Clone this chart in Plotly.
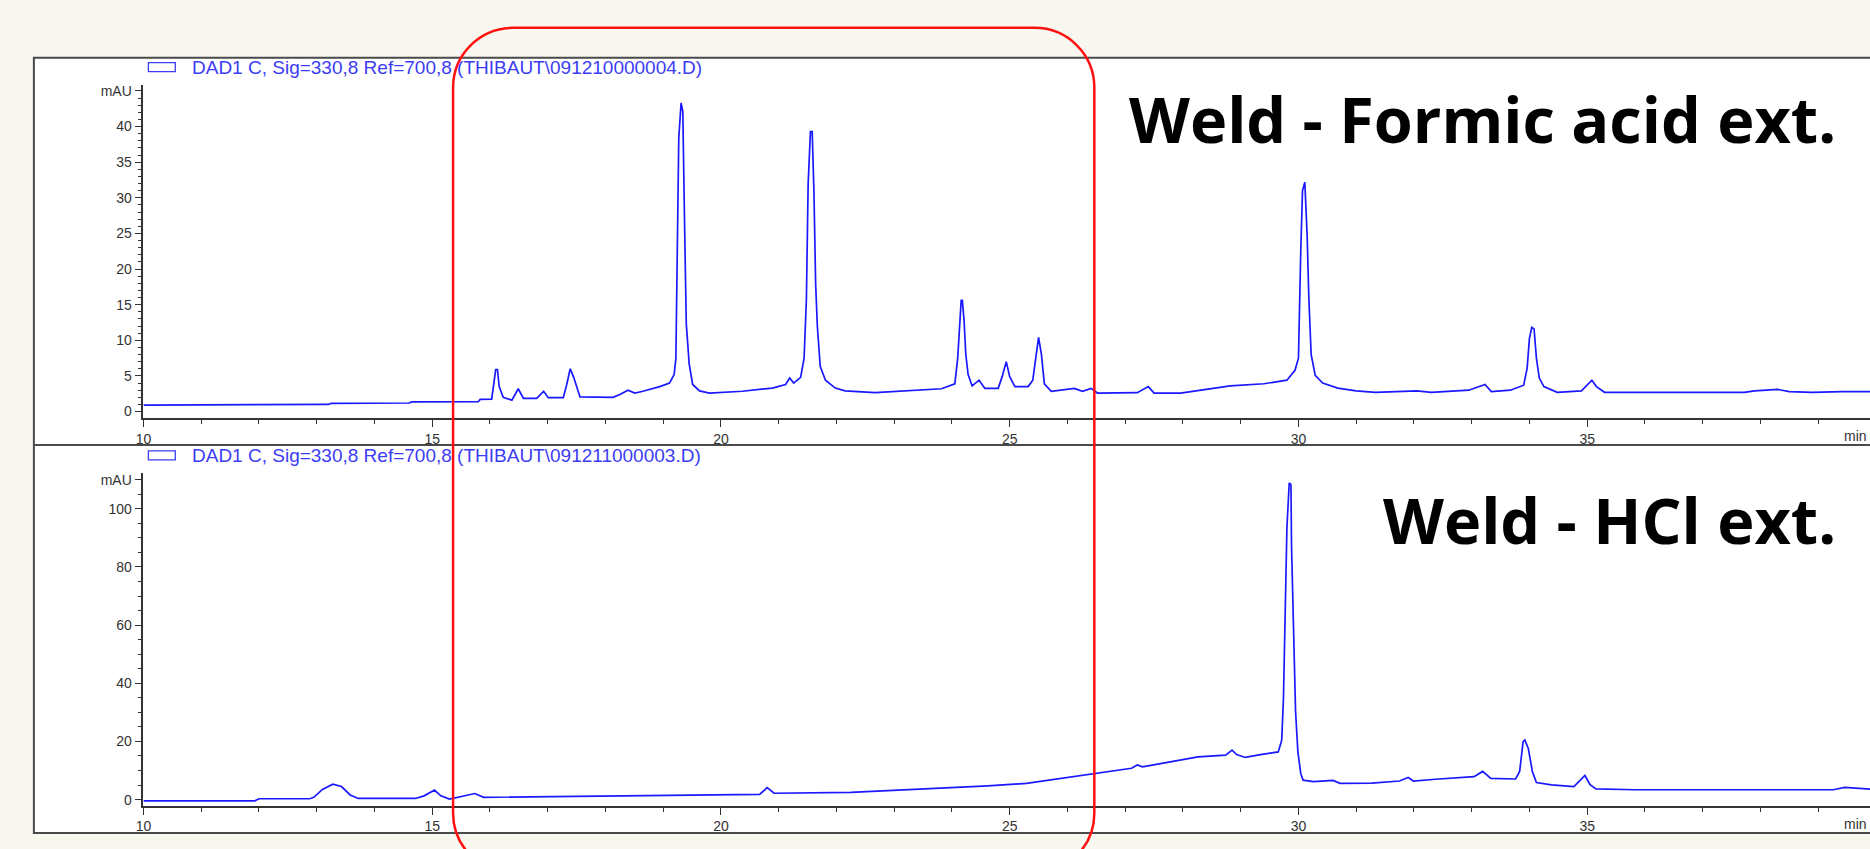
import plotly.graph_objects as go

# ---------------- data ----------------
top_time = [10.0, 11.05, 11.1, 13.2, 13.25, 14.6, 14.65, 15.80, 15.83, 16.03, 16.06, 16.10, 16.13, 16.16,
            16.23, 16.38, 16.45, 16.49, 16.53, 16.58, 16.81, 16.88, 16.93, 17.01, 17.27, 17.33, 17.39,
            17.45, 17.56, 18.13, 18.25, 18.39, 18.51, 18.65, 18.94, 19.11, 19.19, 19.22, 19.24, 19.27,
            19.31, 19.34, 19.37, 19.40, 19.45, 19.51, 19.63, 19.80, 20.37, 20.89, 21.12, 21.19, 21.26,
            21.38, 21.44, 21.48, 21.51, 21.55, 21.58, 21.61, 21.64, 21.67, 21.72, 21.81, 21.98, 22.15,
            22.67, 23.82, 24.05, 24.10, 24.16, 24.18, 24.21, 24.24, 24.28, 24.35, 24.47, 24.57, 24.80,
            24.87, 24.94, 25.00, 25.09, 25.32, 25.40, 25.46, 25.50, 25.55, 25.60, 25.72, 26.12, 26.26,
            26.41, 26.52, 27.21, 27.40, 27.50, 27.96, 28.53, 28.82, 29.40, 29.80, 29.94, 30.00, 30.04,
            30.07, 30.11, 30.15, 30.18, 30.22, 30.29, 30.42, 30.68, 31.00, 31.33, 32.05, 32.30, 32.95,
            33.23, 33.34, 33.67, 33.90, 33.96, 34.00, 34.04, 34.08, 34.12, 34.17, 34.25, 34.38, 34.48,
            34.90, 35.00, 35.08, 35.16, 35.30, 36.20, 37.72, 37.90, 38.21, 38.30, 38.50, 38.90, 39.40,
            39.90]
top_mau = [0.90, 0.92, 1.0, 1.0, 1.15, 1.2, 1.35, 1.38, 1.70, 1.75, 3.5, 5.9, 5.9, 3.5,
           2.0, 1.6, 2.6, 3.2, 2.6, 1.85, 1.85, 2.4, 2.85, 1.95, 1.95, 3.8, 6.0,
           4.8, 2.05, 2.0, 2.4, 3.0, 2.6, 2.85, 3.5, 4.0, 5.2, 7.5, 18.1, 38.4,
           43.3, 42.1, 26.5, 12.3, 6.7, 3.8, 2.9, 2.6, 2.85, 3.3, 3.8, 4.7, 4.0,
           4.8, 7.5, 15.8, 31.9, 39.3, 39.3, 31.0, 17.9, 11.9, 6.3, 4.4, 3.3, 2.9,
           2.65, 3.2, 3.9, 7.5, 15.6, 15.6, 12.8, 8.0, 5.2, 3.6, 4.4, 3.25, 3.25,
           4.9, 7.0, 4.9, 3.5, 3.5, 4.4, 8.0, 10.4, 8.0, 3.9, 2.85, 3.25, 2.85,
           3.25, 2.6, 2.65, 3.5, 2.6, 2.6, 3.2, 3.6, 3.9, 4.4, 5.8, 7.5, 22.6,
           31.0, 32.2, 24.8, 15.9, 8.0, 5.1, 4.0, 3.3, 2.9, 2.7, 2.9, 2.7, 3.0,
           3.8, 2.8, 3.0, 3.7, 6.1, 10.3, 11.8, 11.6, 7.5, 4.7, 3.5, 3.0, 2.7,
           2.9, 3.7, 4.4, 3.5, 2.7, 2.7, 2.7, 2.9, 3.0, 3.1, 2.8, 2.7, 2.8,
           2.8]

bottom_time = [10.0, 11.93, 12.0, 12.88, 12.95, 13.1, 13.28, 13.43, 13.58, 13.72, 14.71, 14.86, 15.04,
               15.15, 15.30, 15.45, 15.74, 15.89, 16.83, 18.0, 19.48, 20.67, 20.80, 20.92, 22.25, 23.14,
               23.93, 24.62, 25.29, 25.77, 26.35, 26.82, 27.11, 27.21, 27.30, 27.78, 28.26, 28.74, 28.85,
               28.93, 29.08, 29.34, 29.65, 29.71, 29.74, 29.77, 29.80, 29.84, 29.87, 29.88, 29.91, 29.95,
               29.99, 30.04, 30.08, 30.26, 30.60, 30.72, 31.27, 31.75, 31.90, 31.99, 32.37, 32.76, 33.04,
               33.19, 33.33, 33.76, 33.83, 33.89, 33.92, 33.98, 34.05, 34.12, 34.38, 34.77, 34.86, 34.96,
               35.05, 35.15, 35.82, 37.35, 39.26, 39.46, 39.90]
bottom_mau = [-0.4, -0.4, 0.3, 0.3, 0.8, 3.5, 5.3, 4.5, 1.6, 0.4, 0.4, 1.3, 3.3,
              1.3, 0.2, 0.8, 2.1, 0.8, 1.0, 1.2, 1.6, 1.8, 4.1, 2.2, 2.5, 3.3,
              3.9, 4.7, 5.6, 7.0, 8.5, 9.8, 10.8, 11.9, 11.3, 13.0, 14.7, 15.3, 17.0,
              15.5, 14.5, 15.5, 16.4, 20.4, 34.7, 63.8, 93.4, 108.9, 108.3, 87.2, 58.1, 30.3,
              16.4, 9.0, 6.7, 6.2, 6.6, 5.6, 5.7, 6.4, 7.6, 6.4, 7.0, 7.6, 7.9,
              9.7, 7.3, 7.1, 9.7, 19.9, 20.5, 17.6, 9.7, 5.9, 5.1, 4.5, 6.2, 8.3,
              5.1, 3.7, 3.4, 3.4, 3.4, 4.2, 3.6]

x_ticks = [10, 15, 20, 25, 30, 35]
top_y_ticks = [0, 5, 10, 15, 20, 25, 30, 35, 40, 45]
top_y_labels = ["0", "5", "10", "15", "20", "25", "30", "35", "40", "mAU"]
bottom_y_ticks = [0, 20, 40, 60, 80, 100, 110]
bottom_y_labels = ["0", "20", "40", "60", "80", "100", "mAU"]

top_legend = "DAD1 C, Sig=330,8 Ref=700,8 (THIBAUT\\091210000004.D)"
bottom_legend = "DAD1 C, Sig=330,8 Ref=700,8 (THIBAUT\\091211000003.D)"
top_title = "Weld - Formic acid ext."
bottom_title = "Weld - HCl ext."

# ---------------- layout helpers (pixel -> paper) ----------------
W, H = 1870, 849
def px(x):
    return x / W
def py(y):
    return 1 - y / H

BLUE = "rgb(25,25,255)"
TXTBLUE = "rgb(60,60,245)"
AX = "#333333"
TICKFONT = dict(family="Liberation Sans, Arial, sans-serif", size=14, color=AX)

fig = go.Figure()
fig.add_trace(go.Scatter(x=top_time, y=top_mau, xaxis="x", yaxis="y", mode="lines",
                         line=dict(color=BLUE, width=1.7), showlegend=False, hoverinfo="skip"))
fig.add_trace(go.Scatter(x=bottom_time, y=bottom_mau, xaxis="x2", yaxis="y2", mode="lines",
                         line=dict(color=BLUE, width=1.7), showlegend=False, hoverinfo="skip"))

x_left = 136
x_per_min = 58.0
x_range = [10, 10 + (W - x_left) / x_per_min]

def xaxis_cfg(anchor):
    return dict(domain=[px(x_left), 1.0], range=x_range, anchor=anchor,
                tickmode="array", tickvals=x_ticks, ticks="outside", ticklen=7, tickwidth=1.2,
                tickcolor=AX, showline=True, linecolor=AX, linewidth=1.6, showgrid=False,
                zeroline=False, tickfont=TICKFONT,
                minor=dict(tickmode="linear", tick0=10, dtick=1, ticks="outside", ticklen=4,
                           tickcolor=AX, tickwidth=1.2, showgrid=False))

t_zero, t_scale, t_bot, t_top = 411.5, 7.16, 418.3, 83.0
b_zero, b_scale, b_bot, b_top = 801.4, 2.922, 807.7, 473.5

def yaxis_cfg(anchor, bot, top, zero, scale, tv, tt, mdt):
    return dict(domain=[py(bot), py(top)], range=[(zero - bot) / scale, (zero - top) / scale],
                anchor=anchor, tickmode="array", tickvals=tv, ticktext=tt, ticks="outside",
                ticklen=7, tickwidth=1.2, tickcolor=AX, showline=True, linecolor=AX, linewidth=1.6,
                showgrid=False, zeroline=False, tickfont=TICKFONT,
                minor=dict(tickmode="linear", tick0=0, dtick=mdt, ticks="outside", ticklen=4,
                           tickcolor=AX, tickwidth=1.2, showgrid=False))

fig.update_layout(
    width=W, height=H, margin=dict(l=0, r=0, t=0, b=0),
    paper_bgcolor="#F8F8F0", plot_bgcolor="rgba(0,0,0,0)",
    xaxis=xaxis_cfg("y"),
    yaxis=yaxis_cfg("x", t_bot, t_top, t_zero, t_scale, top_y_ticks, top_y_labels, 1),
    xaxis2=xaxis_cfg("y2"),
    yaxis2=yaxis_cfg("x2", b_bot, b_top, b_zero, b_scale, bottom_y_ticks, bottom_y_labels, 5),
    showlegend=False,
)

shapes = []
shapes.append(dict(type="rect", xref="paper", yref="paper", x0=px(26), x1=px(1880), y0=py(835), y1=py(56),
                   fillcolor="white", line=dict(color="#4a4a4a", width=2), layer="below"))
shapes.append(dict(type="line", xref="paper", yref="paper", x0=px(26), x1=px(1880), y0=py(445), y1=py(445),
                   line=dict(color="#4a4a4a", width=2), layer="below"))
for yy in (61, 451):
    shapes.append(dict(type="rect", xref="paper", yref="paper", x0=px(141), x1=px(168),
                       y0=py(yy + 9), y1=py(yy), line=dict(color=TXTBLUE, width=1.3),
                       fillcolor="rgba(0,0,0,0)"))

# red rounded rectangle
L, R, T, B, r = 447, 1091, 26, 875, 60
k = 0.5523 * r
def P(x, y):
    return f"{px(x):.5f},{py(y):.5f}"
path = (f"M {P(L, T + r)} C {P(L, T + r - k)} {P(L + r - k, T)} {P(L + r, T)} "
        f"L {P(R - r, T)} C {P(R - r + k, T)} {P(R, T + r - k)} {P(R, T + r)} "
        f"L {P(R, B - r)} C {P(R, B - r + k)} {P(R - r + k, B)} {P(R - r, B)} "
        f"L {P(L + r, B)} C {P(L + r - k, B)} {P(L, B - r + k)} {P(L, B - r)} Z")
shapes.append(dict(type="path", xref="paper", yref="paper", path=path,
                   line=dict(color="#ff1010", width=2.5)))
fig.update_layout(shapes=shapes)

ann = []
LEGFONT = dict(family="Liberation Sans, Arial, sans-serif", size=19, color=TXTBLUE)
ann.append(dict(text=top_legend, x=px(183), y=py(66), xref="paper", yref="paper",
                xanchor="left", yanchor="middle", showarrow=False, font=LEGFONT))
ann.append(dict(text=bottom_legend, x=px(183), y=py(456), xref="paper", yref="paper",
                xanchor="left", yanchor="middle", showarrow=False, font=LEGFONT))
TFONT = dict(family="Open Sans, Lato, sans-serif", size=63, color="black", weight=700)
ann.append(dict(text=top_title, x=px(1838), y=py(117), xref="paper", yref="paper",
                xanchor="right", yanchor="middle", showarrow=False, font=TFONT))
ann.append(dict(text=bottom_title, x=px(1838), y=py(520), xref="paper", yref="paper",
                xanchor="right", yanchor="middle", showarrow=False, font=TFONT))
for yy in (436, 826):
    ann.append(dict(text="min", x=px(1842), y=py(yy), xref="paper", yref="paper",
                    xanchor="left", yanchor="middle", showarrow=False, font=TICKFONT))
fig.update_layout(annotations=ann)

fig.write_html("out.html", config={"displayModeBar": False},
               post_script="document.body.style.margin='0';document.body.style.overflow='hidden';")
